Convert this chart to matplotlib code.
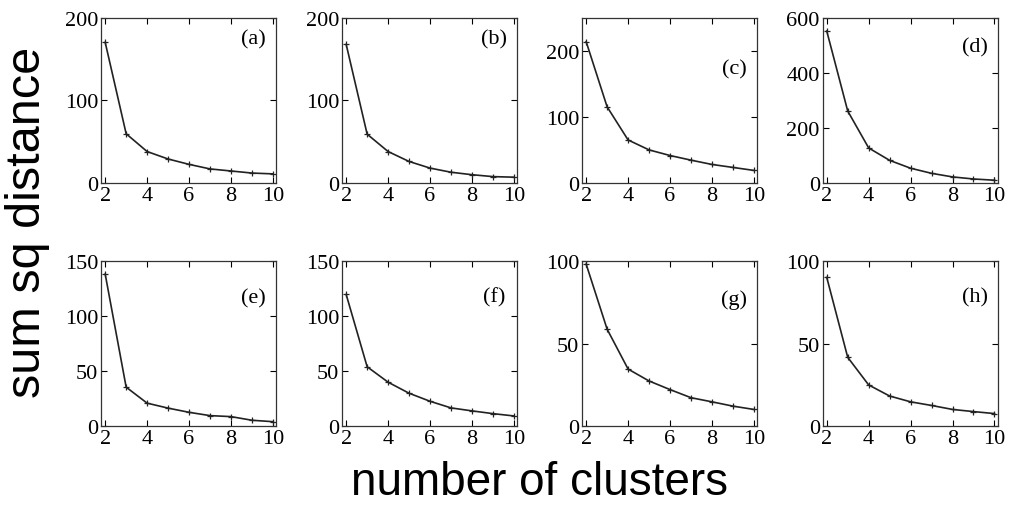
import numpy as np
import matplotlib.pyplot as plt

# number of clusters k = 2..10, sum of squared distances per panel
k = [2, 3, 4, 5, 6, 7, 8, 9, 10]
panel_tags = ['(a)', '(b)', '(c)', '(d)', '(e)', '(f)', '(g)', '(h)']

ssd_a = [170, 59.5, 38, 29, 22.5, 17, 14.5, 12, 11]
ssd_b = [167.5, 59, 38, 26, 18, 13, 10, 7.7, 7]
ssd_c = [213.5, 115, 65, 50, 41.5, 34.5, 28, 23.5, 19]
ssd_d = [551, 261, 127, 82, 53.5, 35, 22, 14.5, 10]
ssd_e = [138, 35.5, 21, 16.5, 12.7, 9.7, 8.8, 5.5, 4.2]
ssd_f = [119.5, 54, 40, 30, 22.7, 16.7, 14, 11.5, 9.4]
ssd_g = [98, 58.7, 34.6, 27.4, 22.2, 17.3, 14.8, 12.2, 10.2]
ssd_h = [90, 41.7, 25, 18.3, 14.8, 12.6, 10.2, 8.9, 7.7]

series = [ssd_a, ssd_b, ssd_c, ssd_d, ssd_e, ssd_f, ssd_g, ssd_h]
ylims = [200, 200, 250, 600, 150, 150, 100, 100]
yticks = [[0, 100, 200], [0, 100, 200], [0, 100, 200], [0, 200, 400, 600],
          [0, 50, 100, 150], [0, 50, 100, 150], [0, 50, 100], [0, 50, 100]]
tag_y = [0.87, 0.87, 0.69, 0.82, 0.775, 0.78, 0.77, 0.78]

serif = 'Liberation Serif'

fig = plt.figure(figsize=(10.13, 5.06), dpi=100)

lefts = [0.0997, 0.3376, 0.5745, 0.812]
bottoms = [0.6364, 0.1555]
w, h = 0.1728, 0.327

for i in range(8):
    r, c = divmod(i, 4)
    ax = fig.add_axes([lefts[c], bottoms[r], w, h])
    ax.plot(k, series[i], color='#222222', lw=1.2, marker='+', ms=4, mew=0.9)
    ax.set_xlim(1.8, 10.15)
    ax.set_ylim(0, ylims[i])
    ax.set_xticks([2, 4, 6, 8, 10])
    ax.set_yticks(yticks[i])
    ax.tick_params(direction='in', top=True, right=True, length=4, width=0.8,
                   labelsize=16, pad=2)
    for lab in ax.get_xticklabels() + ax.get_yticklabels():
        lab.set_fontfamily(serif)
    for s in ax.spines.values():
        s.set_linewidth(0.9)
        s.set_color('#333333')
    ax.text(0.87, tag_y[i], panel_tags[i], transform=ax.transAxes,
            ha='center', va='center', fontsize=16, family=serif)

fig.text(0.027, 0.56, 'sum sq distance', rotation=90, ha='center', va='center',
         fontsize=35, family='Liberation Sans')
fig.text(0.533, 0.045, 'number of clusters', ha='center', va='center',
         fontsize=33, family='Liberation Sans')

fig.savefig('out.png', dpi=100)
